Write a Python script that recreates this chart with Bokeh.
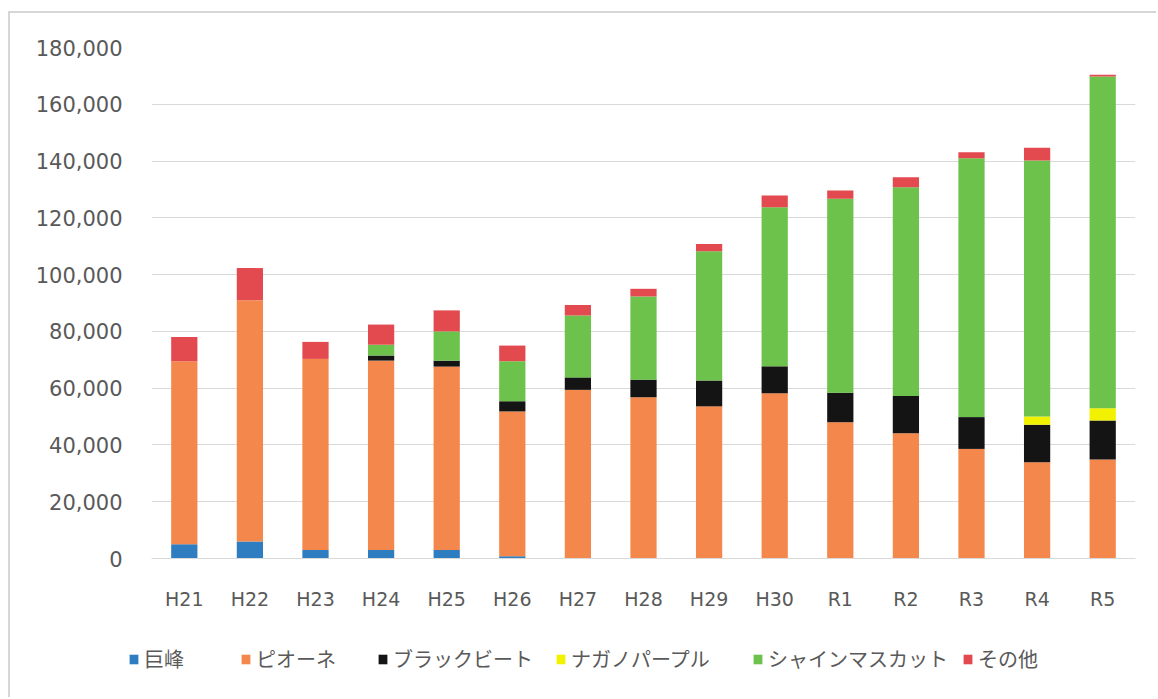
from bokeh.plotting import figure
from bokeh.models import Legend, LegendItem, NumeralTickFormatter, FactorRange
from bokeh.embed import file_html
from bokeh.resources import INLINE

# Grape production by variety, fiscal years H21 .. R5
years = ["H21", "H22", "H23", "H24", "H25", "H26", "H27", "H28",
         "H29", "H30", "R1", "R2", "R3", "R4", "R5"]
kyoho = [5000, 6000, 3000, 3000, 3000, 800, 0, 0, 0, 0, 0, 0, 0, 0, 0]
pione = [64500, 85000, 67300, 66700, 64600, 51000, 59400, 56800, 53600,
         58200, 48000, 44100, 38600, 33900, 34900]
black_beet = [0, 0, 0, 1800, 2100, 3600, 4400, 6200, 9100, 9500, 10400,
              13100, 11200, 13200, 13700]
nagano_purple = [0, 0, 0, 0, 0, 0, 0, 0, 0, 0, 0, 0, 0, 2900, 4300]
shine_muscat = [0, 0, 0, 3800, 10300, 14100, 21800, 29300, 45500, 56000,
                68300, 73600, 91200, 90200, 116900]
other = [8500, 11300, 6000, 7100, 7400, 5500, 3700, 2700, 2600, 4200, 2900,
         3500, 2100, 4500, 600]

series_keys = ["kyoho", "pione", "black_beet", "nagano_purple", "shine_muscat", "other"]
series_labels = ["巨峰", "ピオーネ", "ブラックビート", "ナガノパープル", "シャインマスカット", "その他"]
colors = ["#2E7DC0", "#F4874B", "#141414", "#F2F200", "#6CC24A", "#E34A4F"]
y_ticks = list(range(0, 180001, 20000))

data = dict(years=years, kyoho=kyoho, pione=pione, black_beet=black_beet,
            nagano_purple=nagano_purple, shine_muscat=shine_muscat, other=other)

W = 1148
H_CHART, H_LEGEND = 600, 86
grid_color = "#d9d9d9"
text_color = "#595959"
edge = "2px solid #d6d6d6"

p = figure(x_range=FactorRange(*years, range_padding=0), y_range=(0, 180000),
           width=W, height=H_CHART, output_backend="svg", toolbar_location=None,
           min_border_left=141, min_border_right=23, min_border_top=34,
           min_border_bottom=H_CHART - 545)
p.margin = (11, 0, 0, 8)
p.styles = {"border-top": edge, "border-left": edge}
p.background_fill_color = "white"
p.border_fill_color = "white"
p.outline_line_color = None

p.vbar_stack(series_keys, x="years", width=0.4, source=data,
             color=colors, line_width=0)

p.ygrid.grid_line_color = grid_color
p.ygrid.grid_line_width = 1
p.xgrid.grid_line_color = None
p.yaxis.ticker = y_ticks
p.yaxis.formatter = NumeralTickFormatter(format="0,0")
p.yaxis.axis_line_color = None
p.yaxis.major_tick_line_color = None
p.yaxis.minor_tick_line_color = None
p.yaxis.major_label_standoff = 23
p.yaxis.major_label_text_font = "DejaVu Sans"
p.yaxis.major_label_text_font_size = "21px"
p.yaxis.major_label_text_color = text_color

p.xaxis.axis_line_color = grid_color
p.xaxis.axis_line_width = 1
p.xaxis.major_tick_line_color = None
p.xaxis.minor_tick_line_color = None
p.xaxis.major_label_standoff = 23
p.xaxis.major_label_text_font = "DejaVu Sans"
p.xaxis.major_label_text_font_size = "19px"
p.xaxis.major_label_text_color = text_color

# legend strip under the chart; each swatch renderer sits outside the visible range
lg_fig = figure(width=W, height=H_LEGEND, x_range=(0, 1), y_range=(0, 1),
                output_backend="svg", toolbar_location=None,
                x_axis_location=None, y_axis_location=None, min_border=0)
lg_fig.margin = (0, 0, 0, 8)
lg_fig.styles = {"border-left": edge}
lg_fig.grid.visible = False
lg_fig.outline_line_color = None
lg_fig.background_fill_color = "white"
lg_fig.border_fill_color = "white"

legend_x = [118, 230, 367, 545, 742, 952]
for label, c, lx in zip(series_labels, colors, legend_x):
    swatch = lg_fig.vbar(x=[5], top=[5], bottom=[4], width=0.4, color=c, line_width=0)
    lg = Legend(items=[LegendItem(label=label, renderers=[swatch])],
                location=(lx, 24), orientation="horizontal",
                padding=0, margin=0, spacing=0,
                glyph_width=11, glyph_height=12, label_standoff=5,
                label_text_font="Noto Sans CJK JP", label_text_font_size="20px",
                label_text_color=text_color,
                border_line_color=None, background_fill_alpha=0)
    lg_fig.add_layout(lg, "center")

open("out.html", "w").write(file_html([p, lg_fig], INLINE))
